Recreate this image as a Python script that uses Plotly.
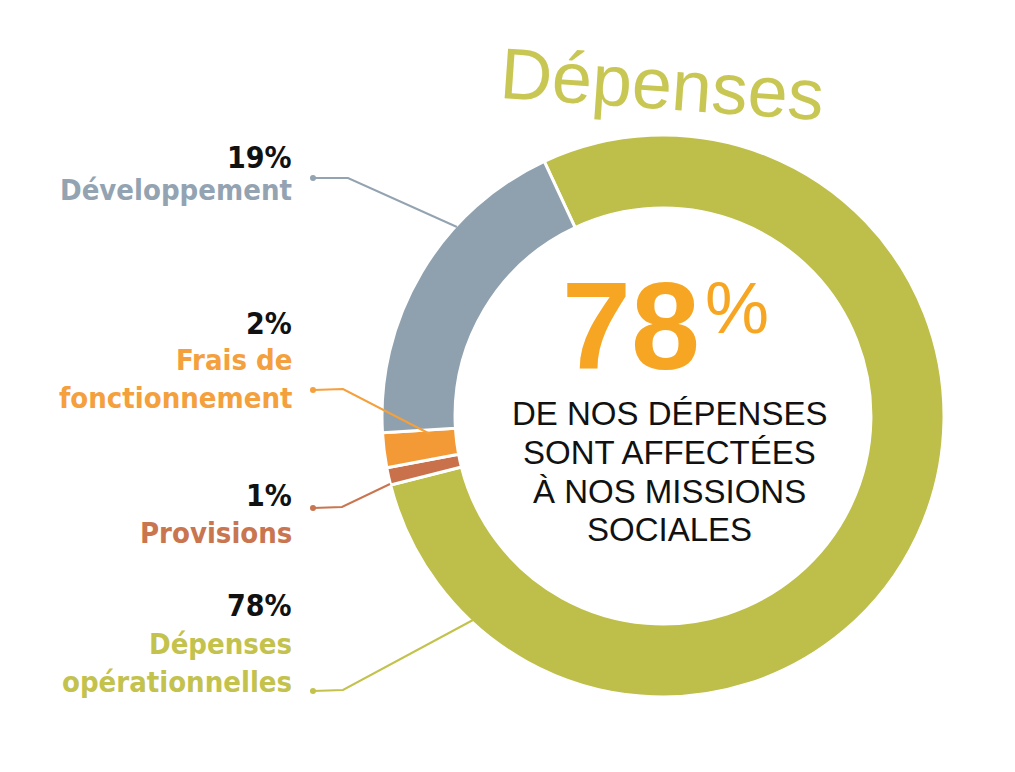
import plotly.graph_objects as go

W, H = 1015, 772

# Data
categories = ["Dépenses opérationnelles", "Provisions", "Frais de fonctionnement", "Développement"]
values = [78, 1, 2, 19]
colors = ["#BEBE4A", "#C8714A", "#F39A36", "#8FA1AF"]
label_colors = ["#C3C24D", "#C97550", "#F4A03C", "#93A3B1"]
pct_labels = ["78%", "1%", "2%", "19%"]
name_labels = ["Dépenses<br>opérationnelles", "Provisions", "Frais de<br>fonctionnement", "Développement"]
center_lines = ["DE NOS DÉPENSES", "SONT AFFECTÉES", "À NOS MISSIONS", "SOCIALES"]

OFF = 8  # browser default body margin


def px(x):
    return (x - OFF) / W


def py(y):
    return 1 - (y - OFF) / H


cx, cy, r = 663, 416, 281

fig = go.Figure()
fig.add_trace(go.Pie(
    labels=categories,
    values=values,
    hole=0.74,
    sort=False,
    direction="clockwise",
    rotation=-25,
    marker=dict(colors=colors, line=dict(color="white", width=3)),
    textinfo="none",
    hoverinfo="label+percent",
    showlegend=False,
    domain=dict(x=[px(cx - r), px(cx + r)], y=[py(cy + r), py(cy - r)]),
))

annotations = []
shapes = []

# Title
annotations.append(dict(
    x=px(662), y=py(84), xref="paper", yref="paper", text="Dépenses",
    showarrow=False, textangle=4,
    font=dict(family="Liberation Sans", size=72, color="#C9C754"),
    xanchor="center", yanchor="middle",
))

# Center text
annotations.append(dict(
    x=px(702), y=py(326), xref="paper", yref="paper", text="<b>78</b>",
    showarrow=False, font=dict(family="Liberation Sans", size=124, color="#F7A623"),
    xanchor="right", yanchor="middle",
))
annotations.append(dict(
    x=px(703), y=py(308), xref="paper", yref="paper", text="%",
    showarrow=False, font=dict(family="Liberation Sans", size=72, color="#F7A623"),
    xanchor="left", yanchor="middle",
))
for line, yy in zip(center_lines, [413, 452, 491, 529]):
    annotations.append(dict(
        x=px(669), y=py(yy), xref="paper", yref="paper", text=line,
        showarrow=False, align="center",
        font=dict(family="Liberation Sans", size=33, color="#111111"),
        xanchor="center", yanchor="middle",
    ))

# Side labels: (pct y, name y) centers
label_pos = {
    "Développement": (157, 190),
    "Frais de fonctionnement": (323, 379),
    "Provisions": (495, 533),
    "Dépenses opérationnelles": (605, 663),
}
# leader line points
leaders = {
    "Développement": [(313, 178), (348, 178), (457, 227)],
    "Frais de fonctionnement": [(313, 390), (343, 389), (430, 434)],
    "Provisions": [(313, 508), (342, 507), (390, 484)],
    "Dépenses opérationnelles": [(313, 691), (343, 690), (473, 620)],
}

LABEL_FONT = "DejaVu Sans Condensed, Liberation Sans, sans-serif"

for cat, pct, nm, lc, col in zip(categories, pct_labels, name_labels, label_colors, colors):
    yp, yn = label_pos[cat]
    annotations.append(dict(
        x=px(294), y=py(yp), xref="paper", yref="paper", text="<b>" + pct + "</b>",
        showarrow=False, font=dict(family=LABEL_FONT, size=30, color="#111111"),
        xanchor="right", yanchor="middle", align="right",
    ))
    annotations.append(dict(
        x=px(294), y=py(yn), xref="paper", yref="paper", text="<b>" + nm + "</b>",
        showarrow=False, font=dict(family=LABEL_FONT, size=29, color=lc),
        xanchor="right", yanchor="middle", align="right",
    ))
    pts = leaders[cat]
    path = "M " + " L ".join(f"{px(x)} {py(y)}" for x, y in pts)
    shapes.append(dict(type="path", xref="paper", yref="paper", path=path,
                       line=dict(color=lc, width=2)))
    x0, y0 = pts[0]
    shapes.append(dict(type="circle", xref="paper", yref="paper",
                       x0=px(x0 - 3), x1=px(x0 + 3), y0=py(y0 + 3), y1=py(y0 - 3),
                       fillcolor=lc, line=dict(color=lc, width=0)))

fig.update_layout(
    width=W, height=H,
    margin=dict(l=0, r=0, t=0, b=0),
    paper_bgcolor="white", plot_bgcolor="white",
    annotations=annotations, shapes=shapes,
)

fig.write_html("out.html")
